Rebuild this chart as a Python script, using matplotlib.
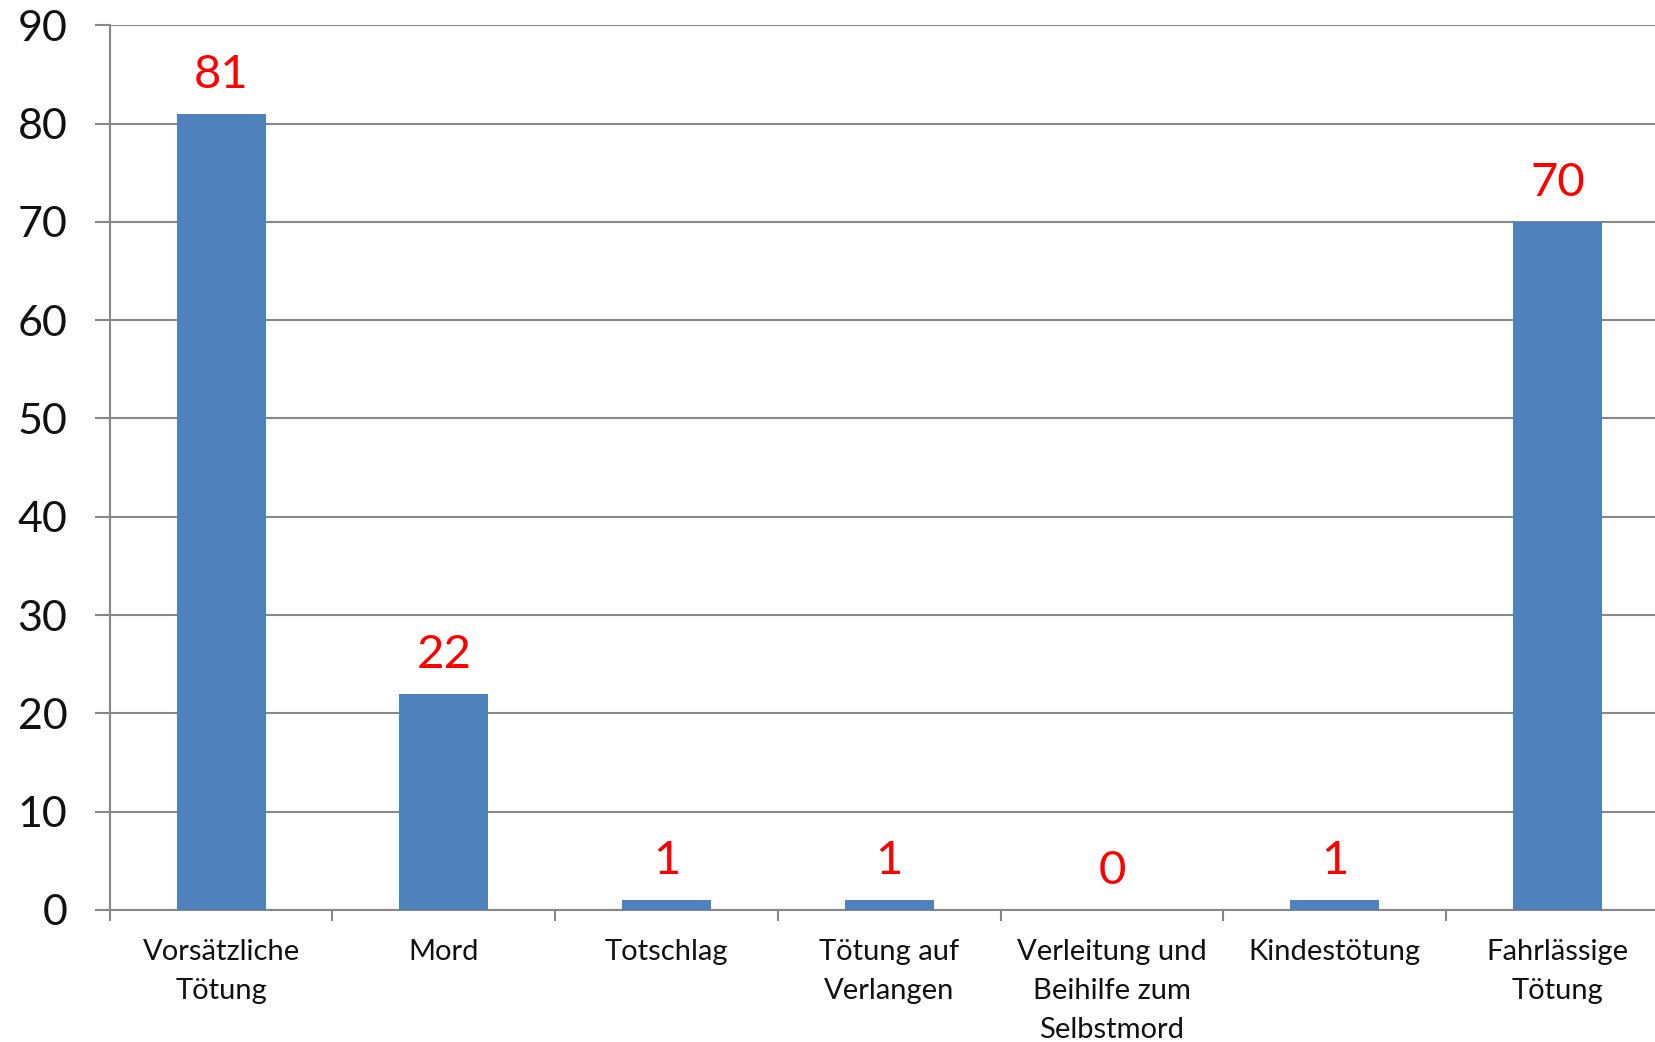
import numpy as np
import matplotlib.pyplot as plt

kategorien = ['Vorsätzliche\nTötung', 'Mord', 'Totschlag', 'Tötung auf\nVerlangen',
              'Verleitung und\nBeihilfe zum\nSelbstmord', 'Kindestötung', 'Fahrlässige\nTötung']
werte = [81, 22, 1, 1, 0, 1, 70]

plt.rcParams['font.family'] = ['Lato', 'DejaVu Sans']

fig = plt.figure(figsize=(16.55, 10.42), dpi=100)
ax = fig.add_axes([0.0663, 0.1268, 0.942, 0.8489])

x = np.arange(len(kategorien))
ax.bar(x, werte, width=0.4, color='#4F81BD', zorder=3)

for xi, w in zip(x, werte):
    ax.annotate(str(w), (xi, w), xytext=(0, 13), textcoords='offset points',
                ha='center', va='bottom', color='#FF0000', fontsize=34)

ax.set_xlim(-0.5, len(kategorien) - 0.5)
ax.set_ylim(0, 90)
ax.set_yticks(range(0, 91, 10))
ax.tick_params(axis='y', labelsize=31, length=10.5, width=1.5, color='#888888',
               labelcolor='#111111', pad=20)

ax.set_xticks(x)
ax.set_xticklabels(kategorien, fontsize=21, linespacing=1.62, color='#111111')
ax.set_xticks(np.arange(-0.5, len(kategorien)), minor=True)
ax.tick_params(axis='x', which='major', length=0, pad=21)
ax.tick_params(axis='x', which='minor', length=8, width=1.5, color='#888888')

ax.grid(axis='y', color='#888888', linewidth=1.5, zorder=0)
for s in ['top', 'right']:
    ax.spines[s].set_visible(False)
for s in ['left', 'bottom']:
    ax.spines[s].set_color('#888888')
    ax.spines[s].set_linewidth(1.5)

plt.savefig('out.png', dpi=100)
